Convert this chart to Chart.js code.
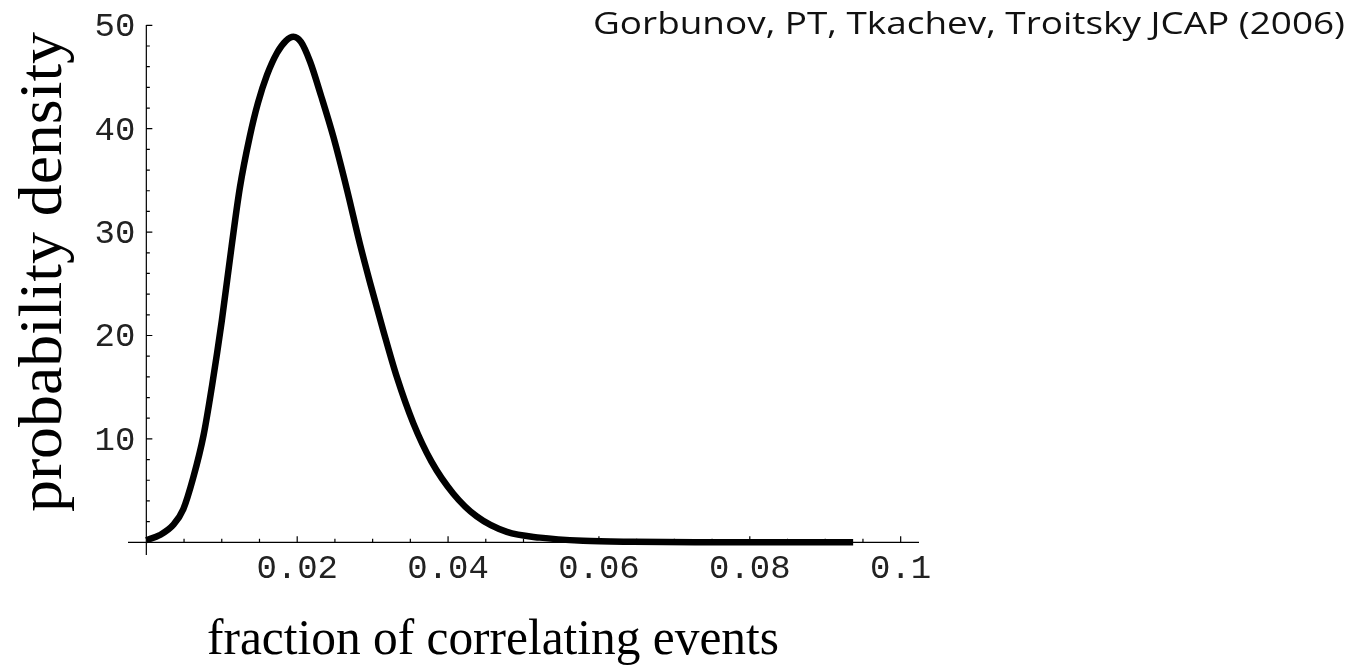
<!DOCTYPE html>
<html>
<head>
<meta charset="utf-8">
<script src="https://cdn.jsdelivr.net/npm/chart.js"></script>
<style>
  html, body { margin: 0; padding: 0; background: #fff; }
  canvas { display: block; }
</style>
</head>
<body>
<canvas id="chart" width="1359" height="670"></canvas>
<script>
'use strict';

// curve
let fraction=[0, 0.0018, 0.0036, 0.0049, 0.0062, 0.0076, 0.0087, 0.0100, 0.0113, 0.0124, 0.0137, 0.0148, 0.0160, 0.0173, 0.0185, 0.0195, 0.0205, 0.0217, 0.0232, 0.0248, 0.0266, 0.0283, 0.0297, 0.0314, 0.0332, 0.0354, 0.0378, 0.0407, 0.0438, 0.0478, 0.0522, 0.0579, 0.0645, 0.075, 0.085, 0.0937]
let density=[0.2, 0.7, 1.7, 3.2, 6.2, 10.4, 15.1, 21.4, 28.6, 34.3, 39.2, 42.5, 45.2, 47.3, 48.5, 48.9, 48.4, 46.5, 43.1, 39.2, 34.1, 28.9, 25.0, 20.5, 16.0, 11.5, 7.8, 4.7, 2.5, 1.0, 0.45, 0.15, 0.05, 0.01, 0, 0]

let xTicks=[0.02, 0.04, 0.06, 0.08, 0.1]
let xTickLabels=['0.02', '0.04', '0.06', '0.08', '0.1']
let yTicks=[10, 20, 30, 40, 50]
let yTickLabels=['10', '20', '30', '40', '50']

let xTitle='fraction of correlating events'
let yTitle='probability density'
let credit='Gorbunov, PT, Tkachev, Troitsky JCAP (2006)'

let points=[]
for(let i=0;i<fraction.length;i++)
{
    points.push({x: fraction[i], y: density[i]})
}

// draw text squeezed/stretched so it takes a given length
function fitText(ctx, text, x, y, font, length, angle)
{
    ctx.save()
    ctx.font=font
    let w=ctx.measureText(text).width
    ctx.translate(x, y)
    ctx.rotate(angle)
    ctx.scale(length/w, 1)
    ctx.textAlign='left'
    ctx.textBaseline='alphabetic'
    ctx.fillText(text, 0, 0)
    ctx.restore()
}

let axesPlugin={
    id: 'axes',
    beforeDatasetsDraw(chart)
    {
        let ctx=chart.ctx
        let xs=chart.scales.x
        let ys=chart.scales.y
        let x0=xs.getPixelForValue(0)
        let y0=ys.getPixelForValue(0)

        ctx.save()
        ctx.strokeStyle='#000'
        ctx.fillStyle='#000'
        ctx.lineWidth=1.2

        ctx.beginPath()
        ctx.moveTo(xs.left, y0)
        ctx.lineTo(xs.right, y0)
        ctx.moveTo(x0, ys.top)
        ctx.lineTo(x0, ys.bottom)

        // x ticks, pointing up
        for(let k=1;k<=20;k++)
        {
            let px=xs.getPixelForValue(k*0.005)
            let len=(k%4===0) ? 6 : 3.5
            ctx.moveTo(px, y0)
            ctx.lineTo(px, y0-len)
        }
        // y ticks, pointing right
        for(let k=1;k<=25;k++)
        {
            let py=ys.getPixelForValue(k*2)
            let len=(k%5===0) ? 6 : 3.5
            ctx.moveTo(x0, py)
            ctx.lineTo(x0+len, py)
        }
        ctx.stroke()

        ctx.fillStyle='#222'
        ctx.font='34px "Liberation Mono"'
        ctx.textBaseline='alphabetic'
        ctx.textAlign='center'
        for(let i=0;i<xTicks.length;i++)
        {
            ctx.fillText(xTickLabels[i], xs.getPixelForValue(xTicks[i]), y0+36)
        }
        ctx.textAlign='right'
        for(let i=0;i<yTicks.length;i++)
        {
            ctx.fillText(yTickLabels[i], x0-11, ys.getPixelForValue(yTicks[i])+11)
        }

        ctx.fillStyle='#000'
        fitText(ctx, xTitle, 207, 654, '51px "Liberation Serif"', 572, 0)
        fitText(ctx, yTitle, 61, 512, '62px "Liberation Serif"', 480, -Math.PI/2)
        ctx.fillStyle='#111'
        fitText(ctx, credit, 593, 34, '31px "Open Sans"', 752, 0)

        ctx.restore()
    }
}

let ctx=document.getElementById('chart').getContext('2d')
let myChart=new Chart(ctx, {
    type: 'scatter',
    data: {
        datasets: [{
            data: points,
            showLine: true,
            borderColor: '#000',
            borderWidth: 6.5,
            borderCapStyle: 'butt',
            borderJoinStyle: 'round',
            pointRadius: 0,
            cubicInterpolationMode: 'monotone',
            fill: false
        }]
    },
    options: {
        responsive: false,
        devicePixelRatio: 1,
        animation: false,
        layout: {
            padding: {left: 128, right: 440, top: 25, bottom: 115}
        },
        plugins: {
            legend: {display: false},
            tooltip: {enabled: false}
        },
        scales: {
            x: {
                type: 'linear',
                min: -0.00243,
                max: 0.10243,
                display: false
            },
            y: {
                type: 'linear',
                min: -1.23,
                max: 50.03,
                display: false
            }
        }
    },
    plugins: [axesPlugin]
});
</script>
</body>
</html>
